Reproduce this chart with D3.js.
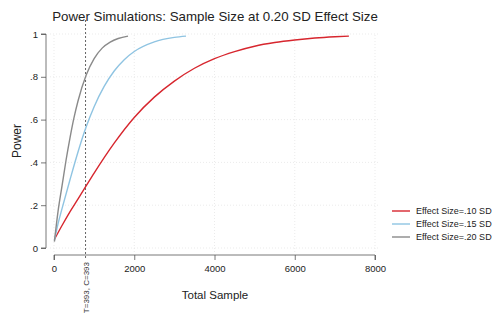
<!DOCTYPE html>
<html>
<head>
<meta charset="utf-8">
<script src="https://cdn.jsdelivr.net/npm/d3@7"></script>
<style>
  body { margin: 0; background: #fff; overflow: hidden; }
  svg { font-family: "Liberation Sans", Arial, sans-serif; }
</style>
</head>
<body>
<div id="chart"></div>
<script>
// Simulated power by total sample size
const redN = [10, 200, 400, 600, 800, 1000, 1500, 2000, 2500, 3000, 3500, 4000, 4500, 5000, 5500, 6000, 6500, 7000, 7350];
const redPower = [0.04, 0.105, 0.17, 0.23, 0.29, 0.35, 0.49, 0.61, 0.705, 0.78, 0.84, 0.885, 0.918, 0.943, 0.96, 0.972, 0.981, 0.987, 0.99];

const blueN = [10, 100, 200, 400, 600, 800, 1000, 1250, 1500, 1750, 2000, 2500, 3000, 3290];
const bluePower = [0.035, 0.113, 0.184, 0.32, 0.45, 0.565, 0.66, 0.755, 0.827, 0.88, 0.918, 0.963, 0.984, 0.99];

const grayN = [10, 100, 200, 300, 400, 500, 600, 800, 1000, 1200, 1400, 1600, 1845];
const grayPower = [0.03, 0.17, 0.29, 0.41, 0.516, 0.61, 0.688, 0.807, 0.885, 0.934, 0.962, 0.979, 0.99];

const seriesNames = ["Effect Size=.10 SD", "Effect Size=.15 SD", "Effect Size=.20 SD"];
const seriesColors = ["#d7262e", "#8fc4e2", "#8a8a8a"];

const xTicks = [0, 2000, 4000, 6000, 8000];
const yTicks = [0, 0.2, 0.4, 0.6, 0.8, 1];
const markerN = 786; // T=393, C=393
const markerLabel = "T=393, C=393";

const width = 496, height = 331;

const series = [
  { n: redN, p: redPower },
  { n: blueN, p: bluePower },
  { n: grayN, p: grayPower }
];

const svg = d3.select("#chart").append("svg")
  .attr("width", width)
  .attr("height", height);

const x = d3.scaleLinear().domain([0, 8000]).range([54, 375]);
const y = d3.scaleLinear().domain([0, 1]).range([248, 34]);

// grid
svg.append("g").selectAll("line").data(xTicks).join("line")
  .attr("x1", d => x(d)).attr("x2", d => x(d))
  .attr("y1", y(0) + 4).attr("y2", y(1))
  .attr("stroke", "#e6e6e6").attr("stroke-width", 0.8)
  .attr("stroke-dasharray", "1,2");
svg.append("g").selectAll("line").data(yTicks).join("line")
  .attr("x1", 50).attr("x2", x(8000) + 4)
  .attr("y1", d => y(d)).attr("y2", d => y(d))
  .attr("stroke", "#e6e6e6").attr("stroke-width", 0.8)
  .attr("stroke-dasharray", "1,2");

// axes
const yAxis = svg.append("g")
  .attr("transform", "translate(46,0)")
  .call(d3.axisLeft(y).tickValues(yTicks).tickSize(5)
    .tickFormat(d => d === 0 ? "0" : d === 1 ? "1" : d3.format(".1f")(d).replace(/^0/, "")));
const xAxis = svg.append("g")
  .attr("transform", "translate(0,255)")
  .call(d3.axisBottom(x).tickValues(xTicks).tickSize(5).tickFormat(d3.format("d")));

[yAxis, xAxis].forEach(a => {
  a.select(".domain").attr("stroke", "#555").attr("stroke-width", 0.8);
  a.selectAll(".tick line").attr("stroke", "#555").attr("stroke-width", 0.8);
  a.selectAll(".tick text").attr("font-size", 9.5).attr("fill", "#222")
    .attr("font-family", "Liberation Sans, Arial, sans-serif");
});
// Stata-style offset axis lines
yAxis.select(".domain").attr("d", `M-5,${y(1)}H0V${y(0)}H-5`);
xAxis.select(".domain").attr("d", `M${x(0)},5V0H${x(8000)}V5`);
xAxis.selectAll(".tick text").attr("dy", "0.9em");

// marker line
svg.append("line")
  .attr("x1", x(markerN)).attr("x2", x(markerN))
  .attr("y1", 20).attr("y2", 258)
  .attr("stroke", "#666").attr("stroke-width", 1)
  .attr("stroke-dasharray", "2,2");
svg.append("text")
  .attr("transform", `translate(${x(markerN) + 3},262) rotate(-90)`)
  .attr("text-anchor", "end")
  .attr("font-size", 8).attr("fill", "#333")
  .text(markerLabel);

// curves
const line = d3.line()
  .x(d => x(d[0])).y(d => y(d[1]))
  .curve(d3.curveMonotoneX);
svg.append("g").selectAll("path").data(series).join("path")
  .attr("d", s => line(s.n.map((v, i) => [v, s.p[i]])))
  .attr("fill", "none")
  .attr("stroke", (s, i) => seriesColors[i])
  .attr("stroke-width", 1.4);

// titles
svg.append("text")
  .attr("x", 215).attr("y", 21)
  .attr("text-anchor", "middle")
  .attr("font-size", 13.3).attr("fill", "#222")
  .text("Power Simulations: Sample Size at 0.20 SD Effect Size");
svg.append("text")
  .attr("transform", "translate(21,141) rotate(-90)")
  .attr("text-anchor", "middle")
  .attr("font-size", 12).attr("fill", "#222")
  .text("Power");
svg.append("text")
  .attr("x", 215).attr("y", 299)
  .attr("text-anchor", "middle")
  .attr("font-size", 11.5).attr("fill", "#222")
  .text("Total Sample");

// legend
const legend = svg.append("g").selectAll("g").data(seriesNames).join("g")
  .attr("transform", (d, i) => `translate(392,${211 + i * 13})`);
legend.append("line")
  .attr("x1", 0).attr("x2", 18)
  .attr("stroke", (d, i) => seriesColors[i]).attr("stroke-width", 1.4);
legend.append("text")
  .attr("x", 24).attr("dy", "0.35em")
  .attr("font-size", 9).attr("fill", "#222")
  .text(d => d);
</script>
</body>
</html>
